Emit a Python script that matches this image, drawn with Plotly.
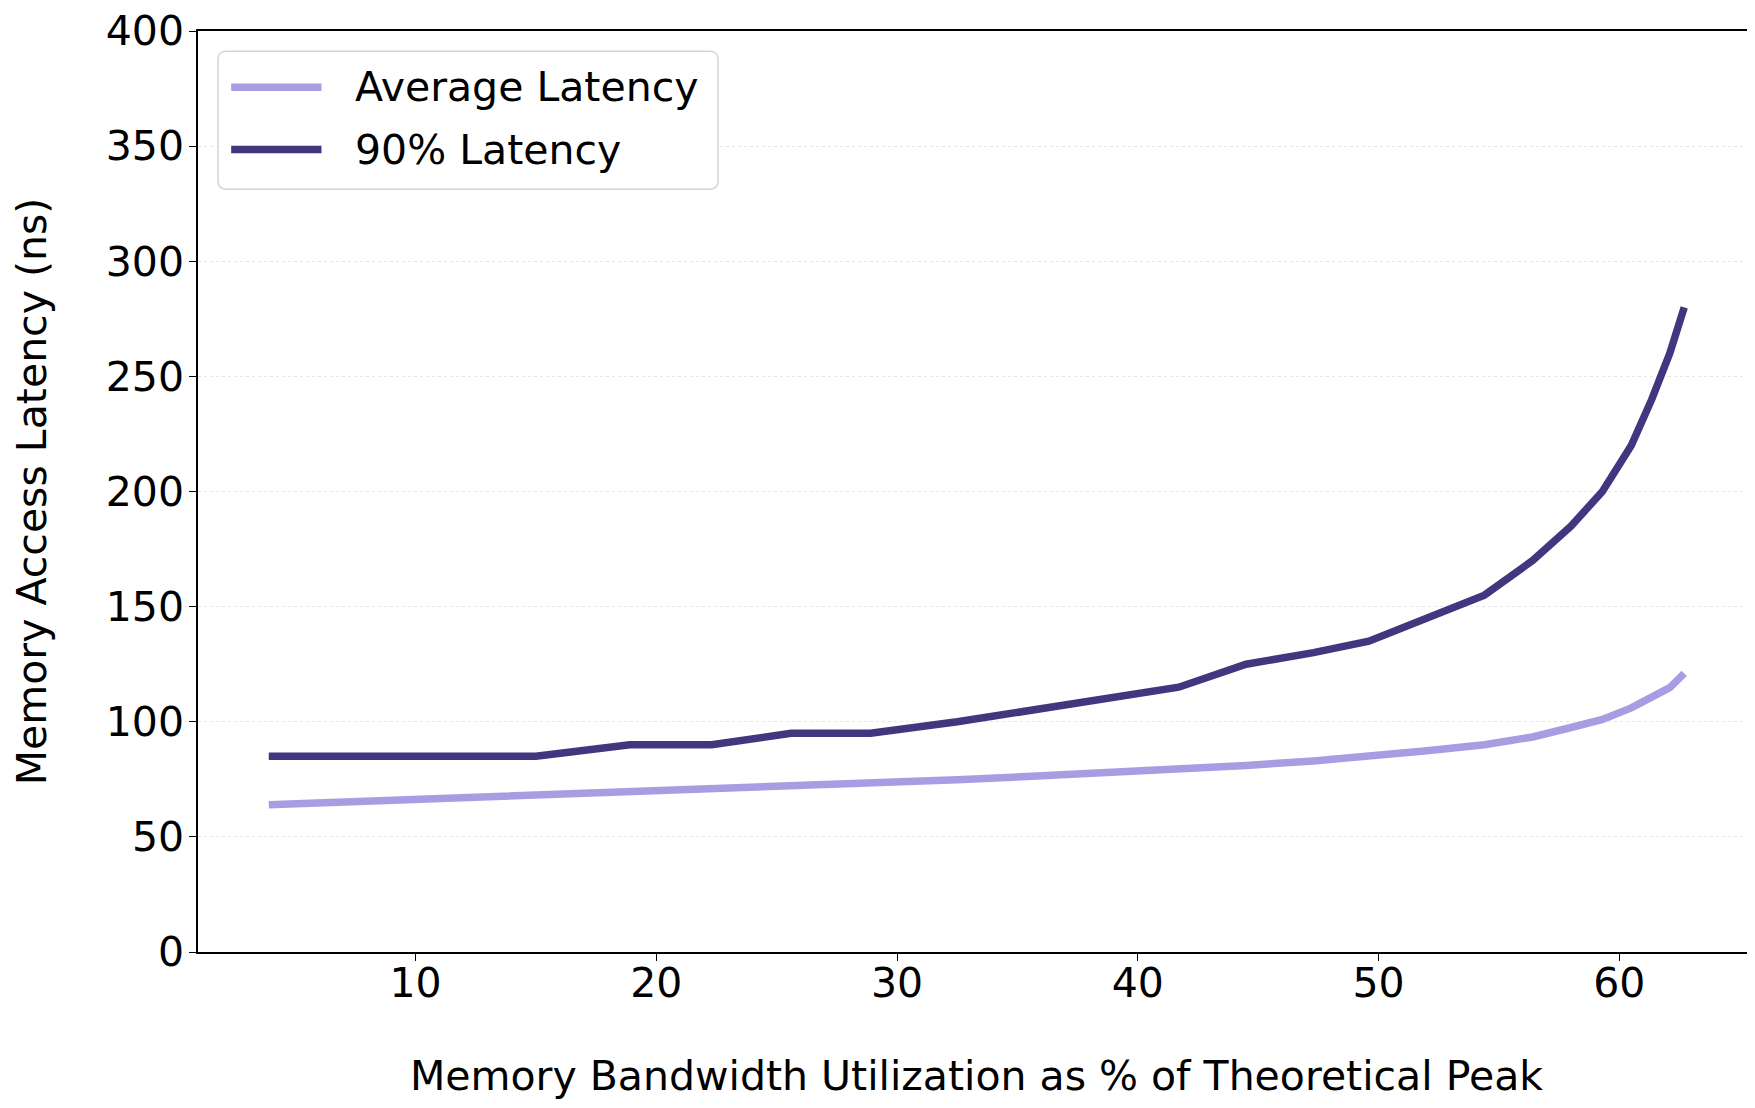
import plotly.graph_objects as go

# Data
bandwidth_pct = [3.9, 15.0, 18.9, 22.3, 25.6, 28.9, 32.5, 35.6, 38.6, 41.7, 44.5,
                 47.3, 49.6, 51.9, 54.4, 56.4, 58.0, 59.3, 60.5, 61.35, 62.1, 62.7]
avg_latency = [64.0, 68.0, 69.8, 70.7, 72.0, 73.0, 74.8, 76.3, 77.8, 79.4, 81.0,
               83.0, 85.0, 87.3, 90.0, 93.4, 97.5, 101.0, 106.0, 110.5, 114.8, 121.0]
p90_latency = [85, 85, 90, 90, 95, 95, 100, 105, 110, 115, 125,
               130, 135, 145, 155, 170, 185, 200, 220, 240, 260, 280]
x_ticks = [10, 20, 30, 40, 50, 60]
y_ticks = [0, 50, 100, 150, 200, 250, 300, 350, 400]
series_names = ["Average Latency", "90% Latency"]
series_colors = ["#a89ce3", "#43367f"]

FONT = "DejaVu Sans"
FS = 41
LW = 7.5

fig = go.Figure()
for name, ys, col in zip(series_names, [avg_latency, p90_latency], series_colors):
    fig.add_trace(go.Scatter(x=bandwidth_pct, y=ys, mode="lines", name=name,
                             showlegend=False,
                             line=dict(color=col, width=LW)))

span = max(bandwidth_pct) - min(bandwidth_pct)
xr = [min(bandwidth_pct) - 0.05 * span, max(bandwidth_pct) + 0.05 * span]

# Legend drawn as a matplotlib-style box (paper coordinates)
bx0, bx1, by0, by1 = 0.0129, 0.334, 0.8283, 0.9779
rx, ry = 0.0052, 0.0087
box_path = (f"M{bx0+rx},{by0} L{bx1-rx},{by0} Q{bx1},{by0} {bx1},{by0+ry} "
            f"L{bx1},{by1-ry} Q{bx1},{by1} {bx1-rx},{by1} "
            f"L{bx0+rx},{by1} Q{bx0},{by1} {bx0},{by1-ry} "
            f"L{bx0},{by0+ry} Q{bx0},{by0} {bx0+rx},{by0} Z")
shapes = [dict(type="path", path=box_path, xref="paper", yref="paper",
               line=dict(color="#d6d6d6", width=1.5),
               fillcolor="rgba(255,255,255,0.85)", layer="above")]
annotations = []
entry_y = [0.9389, 0.8712]
for name, col, ey in zip(series_names, series_colors, entry_y):
    shapes.append(dict(type="line", xref="paper", yref="paper",
                       x0=0.0213, x1=0.0793, y0=ey, y1=ey,
                       line=dict(color=col, width=LW), layer="above"))
    annotations.append(dict(text=name, xref="paper", yref="paper",
                            x=0.0993, y=ey, xanchor="left", yanchor="middle",
                            showarrow=False,
                            font=dict(family=FONT, size=FS, color="black")))

fig.update_layout(
    width=1755, height=1108,
    margin=dict(l=190, r=8, t=23, b=164),
    paper_bgcolor="white", plot_bgcolor="white",
    font=dict(family=FONT, size=FS, color="black"),
    shapes=shapes, annotations=annotations,
    xaxis=dict(range=xr, tickvals=x_ticks, showgrid=False, zeroline=False,
               automargin=False, ticklabeloverflow="allow",
               showline=True, linecolor="black", linewidth=1.5, mirror=True,
               ticks="outside", ticklen=7, tickwidth=1.2, tickcolor="black",
               ticklabelstandoff=-13,
               title=dict(text="Memory Bandwidth Utilization as % of Theoretical Peak",
                          standoff=55, font=dict(size=FS))),
    yaxis=dict(range=[0, 400], tickvals=y_ticks, showgrid=True,
               automargin=False, ticklabeloverflow="allow",
               gridcolor="#e6e6e6", gridwidth=1.2, griddash="dot", zeroline=False,
               showline=True, linecolor="black", linewidth=1.5, mirror=True,
               ticks="outside", ticklen=7, tickwidth=1.2, tickcolor="black",
               ticklabelstandoff=-3,
               title=dict(text="Memory Access Latency (ns)", standoff=50,
                          font=dict(size=FS))),
)

fig.write_html("out.html")
